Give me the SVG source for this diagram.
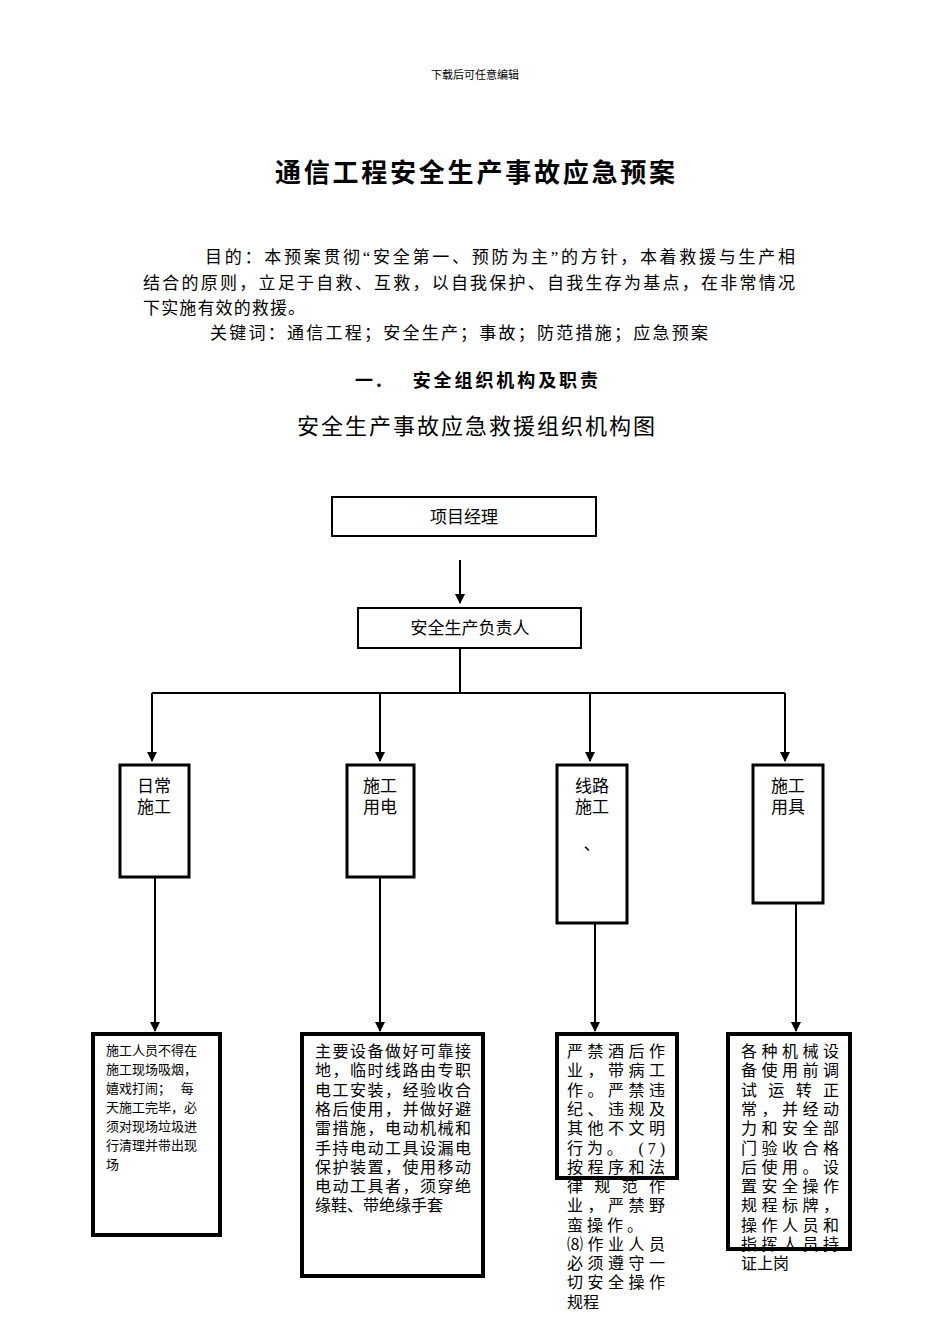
<svg xmlns="http://www.w3.org/2000/svg" width="950" height="1344" viewBox="0 0 950 1344">
<style>
text{font-family:"Liberation Serif","Noto Sans CJK SC",serif;fill:#000}
.b{font-family:"Noto Sans CJK SC",sans-serif;font-weight:bold}
.n{fill:#fff;stroke:#000}
.c{stroke:#000;stroke-width:2;fill:none}
.s{font-size:13px}
.m{font-size:16px}
</style>
<defs><marker id="a" viewBox="0 0 10 10" refX="9" refY="5" markerWidth="5" markerHeight="5" orient="auto"><path d="M0,0L10,5L0,10z" fill="#000"/></marker></defs>
<text x="475" y="79" font-size="11" text-anchor="middle">下载后可任意编辑</text>
<text x="275" y="182" font-size="26" class="b" textLength="400">通信工程安全生产事故应急预案</text>
<g font-size="17">
<text x="205" y="263" textLength="590">目的：本预案贯彻“安全第一、预防为主”的方针，本着救援与生产相</text>
<text x="143" y="289" textLength="652">结合的原则，立足于自救、互救，以自我保护、自我生存为基点，在非常情况</text>
<text x="143" y="314" textLength="162">下实施有效的救援。</text>
<text x="210" y="339" textLength="498">关键词：通信工程；安全生产；事故；防范措施；应急预案</text>
</g>
<text x="355" y="387" font-size="18" class="b" textLength="243">一.　 安全组织机构及职责</text>
<text x="297" y="434" font-size="22" textLength="358">安全生产事故应急救援组织机构图</text>
<g id="connectors">
<path class="c" d="M460,560V603" marker-end="url(#a)"/>
<path class="c" d="M460,648V692"/>
<path class="c" d="M152,693H785"/>
<path class="c" d="M152,693V761" marker-end="url(#a)"/>
<path class="c" d="M380,693V761" marker-end="url(#a)"/>
<path class="c" d="M590,693V761" marker-end="url(#a)"/>
<path class="c" d="M785,693V761" marker-end="url(#a)"/>
<path class="c" d="M155,877V1031" marker-end="url(#a)"/>
<path class="c" d="M380,877V1031" marker-end="url(#a)"/>
<path class="c" d="M595,923V1031" marker-end="url(#a)"/>
<path class="c" d="M796,903V1031" marker-end="url(#a)"/>
</g>
<g id="n1"><rect class="n" x="332" y="497" width="264" height="39" stroke-width="2"/><text x="464" y="523" font-size="17" text-anchor="middle">项目经理</text></g>
<g id="n2"><rect class="n" x="358" y="608" width="223" height="40" stroke-width="2"/><text x="470" y="634" font-size="17" text-anchor="middle">安全生产负责人</text></g>
<g id="n3"><rect class="n" x="120" y="765" width="69" height="112" stroke-width="3"/><text x="154" y="792" font-size="17" text-anchor="middle">日常</text><text x="154" y="813" font-size="17" text-anchor="middle">施工</text></g>
<g id="n4"><rect class="n" x="347" y="765" width="67" height="112" stroke-width="3"/><text x="380" y="792" font-size="17" text-anchor="middle">施工</text><text x="380" y="813" font-size="17" text-anchor="middle">用电</text></g>
<g id="n5"><rect class="n" x="557" y="765" width="70" height="158" stroke-width="3"/><text x="592" y="792" font-size="17" text-anchor="middle">线路</text><text x="592" y="813" font-size="17" text-anchor="middle">施工</text><text x="592" y="850" font-size="17" text-anchor="middle">、</text></g>
<g id="n6"><rect class="n" x="753" y="765" width="70" height="138" stroke-width="3"/><text x="788" y="792" font-size="17" text-anchor="middle">施工</text><text x="788" y="813" font-size="17" text-anchor="middle">用具</text></g>
<g id="n7"><rect class="n" x="93" y="1034" width="127" height="201" stroke-width="4"/>
<g class="s"><text x="106" y="1055">施工人员不得在</text><text x="106" y="1074">施工现场吸烟，</text><text x="106" y="1093">嬉戏打闹；　 每</text><text x="106" y="1112">天施工完毕，必</text><text x="106" y="1131">须对现场垃圾进</text><text x="106" y="1150">行清理并带出现</text><text x="106" y="1169">场</text></g></g>
<g id="n8"><rect class="n" x="302" y="1034" width="181" height="242" stroke-width="4"/>
<g class="m"><text x="315" y="1057" textLength="156">主要设备做好可靠接</text><text x="315" y="1076" textLength="156">地，临时线路由专职</text><text x="315" y="1096" textLength="156">电工安装，经验收合</text><text x="315" y="1115" textLength="156">格后使用，并做好避</text><text x="315" y="1134" textLength="156">雷措施，电动机械和</text><text x="315" y="1154" textLength="156">手持电动工具设漏电</text><text x="315" y="1173" textLength="156">保护装置，使用移动</text><text x="315" y="1192" textLength="156">电动工具者，须穿绝</text><text x="315" y="1211">缘鞋、带绝缘手套</text></g></g>
<g id="n9"><rect class="n" x="557" y="1034" width="120" height="144" stroke-width="4"/>
<g class="m"><text x="567" y="1057" textLength="98">严禁酒后作</text><text x="567" y="1076" textLength="98">业，带病工</text><text x="567" y="1096" textLength="98">作。严禁违</text><text x="567" y="1115" textLength="98">纪、违规及</text><text x="567" y="1134" textLength="98">其他不文明</text><text x="567" y="1154" textLength="98">行为。　(7)</text><text x="567" y="1173" textLength="98">按程序和法</text><text x="567" y="1192" textLength="98">律规范作</text><text x="567" y="1211" textLength="98">业，严禁野</text><text x="567" y="1231">蛮 操 作 。</text><text x="567" y="1250" textLength="98">⑻作业人员</text><text x="567" y="1269" textLength="98">必须遵守一</text><text x="567" y="1288" textLength="98">切安全操作</text><text x="567" y="1308">规程</text></g></g>
<g id="n10"><rect class="n" x="728" y="1034" width="122" height="215" stroke-width="4"/>
<g class="m"><text x="741" y="1057" textLength="98">各种机械设</text><text x="741" y="1076" textLength="98">备使用前调</text><text x="741" y="1096" textLength="98">试运转正</text><text x="741" y="1115" textLength="98">常，并经动</text><text x="741" y="1134" textLength="98">力和安全部</text><text x="741" y="1154" textLength="98">门验收合格</text><text x="741" y="1173" textLength="98">后使用。设</text><text x="741" y="1192" textLength="98">置安全操作</text><text x="741" y="1211" textLength="98">规程标牌，</text><text x="741" y="1231" textLength="98">操作人员和</text><text x="741" y="1250" textLength="98">指挥人员持</text><text x="741" y="1269">证上岗</text></g></g>
</svg>
